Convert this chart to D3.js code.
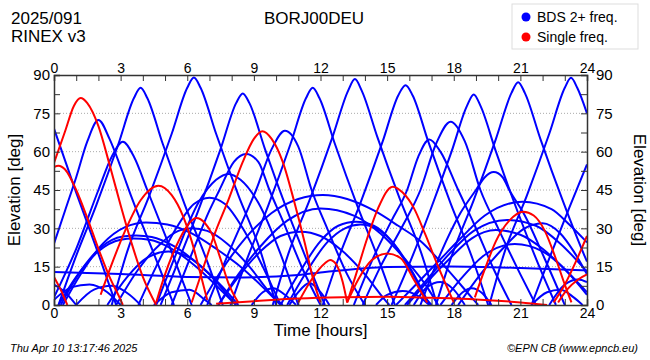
<!DOCTYPE html>
<html>
<head>
<meta charset="utf-8">
<script src="https://cdn.jsdelivr.net/npm/d3@7"></script>
<style>
  body { margin: 0; background: #fff; }
  svg { font-family: "Liberation Sans", Arial, sans-serif; }
  .grid line { stroke: #aaa; stroke-dasharray: 1,2; }
  .axis path, .axis line { stroke: #333; }
  .axis text { font-size: 15px; fill: #000; }
  .axis.xax text { font-size: 14px; }
</style>
</head>
<body>
<svg id="chart" width="650" height="360"></svg>
<script>
// tick labels
const xTicks = [0, 3, 6, 9, 12, 15, 18, 21, 24];
const yTicks = [0, 15, 30, 45, 60, 75, 90];

// BDS 2+ freq. passes: [hour, elevation]
const bdsHigh = [
  [[0, 69], [1, 44], [2, 20], [2.8, 0]],
  [[0.2, 0], [0.9, 17], [1.9, 39], [2.9, 63], [3.6, 81], [3.9, 85], [4.2, 81], [4.9, 63], [5.9, 39], [6.9, 17], [7.6, 0]],
  [[2.6, 0], [3.3, 21], [4.3, 43], [5.3, 67], [6.0, 85], [6.3, 89], [6.6, 85], [7.3, 67], [8.3, 43], [9.3, 21], [10.0, 0]],
  [[4.8, 0], [5.5, 15], [6.5, 37], [7.5, 61], [8.2, 79], [8.5, 82.8], [8.8, 79], [9.5, 61], [10.5, 37], [11.5, 15], [12.2, 0]],
  [[7.95, 0], [8.65, 17], [9.65, 39], [10.65, 63], [11.35, 81], [11.65, 85], [11.95, 81], [12.65, 63], [13.65, 39], [14.65, 17], [15.35, 0]],
  [[9.85, 0], [10.55, 20], [11.55, 42], [12.55, 66], [13.25, 84], [13.55, 88.4], [13.85, 84], [14.55, 66], [15.55, 42], [16.55, 20], [17.25, 0]],
  [[12.1, 0], [12.8, 18], [13.8, 40], [14.8, 64], [15.5, 82], [15.83, 86], [16.15, 82], [16.85, 64], [17.85, 40], [18.85, 18], [19.55, 0]],
  [[15.2, 0], [15.9, 14], [16.9, 36], [17.9, 60], [18.6, 78], [18.9, 82.4], [19.2, 78], [19.9, 60], [20.9, 36], [21.9, 14], [22.6, 0]],
  [[17.2, 0], [17.9, 19], [18.9, 41], [19.9, 65], [20.6, 83], [20.9, 87.2], [21.2, 83], [21.9, 65], [22.9, 41], [23.9, 19], [24, 17]],
  [[19.6, 0], [20.3, 21], [21.3, 43], [22.3, 67], [23.0, 85], [23.28, 88.9], [23.56, 85], [24, 75]],
  [[21.5, 0], [22.2, 16], [23.2, 38], [24, 55]]
];

const bdsMid = [
  [[0, 24], [0.5, 37], [1, 50], [1.5, 64], [2, 72.4], [2.5, 65], [3, 54], [3.5, 42], [4.5, 20], [5.4, 0]],
  [[0, 3], [1, 22], [2, 45], [2.6, 58], [3.1, 63.9], [3.6, 58], [4.2, 45], [5.2, 23], [6.2, 0]],
  [[4.6, 0], [5.5, 20], [6.5, 40], [7.3, 49], [7.85, 51.3], [8.4, 49], [9.2, 40], [10.2, 20], [11.0, 0]],
  [[5.3, 0], [6.2, 20], [7, 37], [7.45, 45], [8.1, 56], [8.65, 59.1], [9.2, 56], [9.7, 45], [10.3, 33], [11.2, 14], [12, 0]],
  [[6.9, 0], [7.7, 17], [8.5, 33], [9.1, 45], [9.8, 61], [10.4, 68.2], [11, 62], [11.6, 45], [12.3, 30], [13.2, 12], [14, 0]],
  [[13.5, 0], [14.3, 17], [15.2, 33], [15.9, 45], [16.4, 58], [16.9, 64.8], [17.4, 60], [18.2, 45], [18.9, 32], [19.8, 14], [20.6, 0]],
  [[13.9, 0], [14.7, 15], [15.7, 31], [16.5, 45], [17.2, 63], [17.86, 71.7], [18.5, 64], [19.2, 45], [20, 30], [21, 12], [21.7, 0]],
  [[16.5, 0], [17.4, 20], [18.3, 36], [19, 45], [19.4, 50], [19.8, 52], [20.2, 50], [20.5, 45], [21.2, 35], [22.1, 18], [23, 0]],
  [[3.8, 0], [4.6, 15], [5.5, 30], [6.3, 39.5], [7.0, 42], [7.7, 39.5], [8.5, 30], [9.4, 15], [10.2, 0]]
];

const bdsWide = [
  [[0.4, 0], [1.2, 12], [2.2, 24], [3.2, 30.5], [4.14, 32.3], [5.1, 31.5], [6.2, 28], [7.3, 22], [8.4, 15], [9.4, 7], [10.2, 0]],
  [[0.2, 0], [1, 11], [2, 21], [3, 25.5], [3.57, 26], [4.3, 25.5], [5.3, 22], [6.4, 15], [7.5, 6], [8.2, 0]],
  [[0.3, 0], [1.1, 12], [2.1, 22.5], [3.1, 26.8], [3.7, 27.2], [4.4, 26.6], [5.4, 23], [6.5, 16], [7.6, 7], [8.3, 0]],
  [[2.8, 0], [3.8, 14], [4.8, 24], [5.6, 29], [6.2, 30], [6.9, 29], [7.8, 24], [8.8, 15], [9.8, 4], [10.3, 0]],
  [[2.4, 0], [3.3, 11], [4.2, 18.5], [5.15, 20.9], [6.1, 18.5], [7, 12], [7.9, 3], [8.2, 0]],
  [[6.6, 0], [7.5, 13], [8.6, 26], [9.8, 36], [11, 41.5], [12.1, 43], [13.2, 41.5], [14.4, 37], [15.5, 31], [16.5, 25], [17.6, 15], [18.8, 3], [19.1, 0]],
  [[7.4, 0], [8.3, 12], [9.3, 23], [10.5, 33], [12, 37.8], [13.5, 35], [14.7, 28], [15.8, 18], [16.8, 7], [17.3, 0]],
  [[7.4, 0], [8.3, 11], [9.3, 21], [10.2, 27], [11.1, 28.7], [12, 27], [13, 21], [14, 12], [14.9, 2], [15.1, 0]],
  [[10.2, 0], [11, 12], [12, 25], [12.8, 31], [13.6, 32.6], [14.4, 31], [15.2, 25], [16.1, 13], [16.8, 2], [17, 0]],
  [[10.5, 0], [11.3, 12], [12.3, 24.5], [13.1, 30], [13.8, 31.5], [14.5, 30], [15.3, 24], [16.2, 12], [16.9, 0]],
  [[15.4, 0], [16.3, 8], [17.3, 17], [18.3, 26], [19.4, 35], [21.1, 40.4], [22.4, 37.5], [23.2, 31.5], [24, 24.5]],
  [[15.8, 0], [16.8, 10], [17.8, 20], [18.9, 29], [20.4, 33.3], [21.7, 31], [22.8, 24], [24, 13]],
  [[15.9, 0], [16.8, 9], [17.8, 18], [18.8, 26], [19.9, 29.3], [21, 27.5], [22, 22], [23, 14], [24, 5]],
  [[18.2, 0], [19.2, 12], [20.2, 22], [21.1, 29.5], [22, 32], [22.8, 28], [23.4, 21], [24, 12]],
  [[17.4, 0], [18.3, 10], [19.3, 19], [20.75, 23.9], [22, 21], [23, 14], [24, 4]]
];

const bdsLow = [
  [[0, 8], [0.5, 5], [1, 0]],
  [[0, 2], [0.8, 7], [1.6, 8], [2.4, 5], [3, 0]],
  [[1, 0], [1.8, 6], [2.6, 7.5], [3.4, 4], [3.9, 0]],
  [[4.5, 0], [5.3, 5], [6.1, 6], [6.8, 2], [7.1, 0]],
  [[8.9, 0], [9.4, 5], [9.87, 6.6], [10.4, 4], [10.9, 0]],
  [[10.6, 0], [11, 5], [11.5, 8.6], [12, 5], [12.4, 0]],
  [[14.5, 0], [15, 4], [15.7, 5.5], [16.4, 3.5], [16.9, 0]],
  [[16.2, 0], [16.8, 7], [17.4, 9], [18, 6], [18.5, 0]],
  [[17.9, 0], [18.4, 5], [18.8, 6.6], [19.3, 4.5], [19.7, 0]],
  [[21.5, 0], [22.2, 5], [22.8, 6], [23.4, 3], [23.8, 0]],
  [[22.3, 0], [23, 8], [23.6, 10], [24, 9]]
];

// geostationary-like track
const bdsGeo = [[0, 12.9], [3, 12.1], [6, 11], [8.5, 10.8], [11, 11.7], [12.2, 12.9], [15, 14.9], [17.8, 15.1], [21, 14.5], [24, 13.5]];

// Single freq. passes
const singleArcs = [
  [[0, 54], [0.2, 54.5], [0.5, 53], [1, 45], [1.5, 34], [2, 22], [2.5, 11], [3, 2], [3.1, 0]],
  [[0, 55.6], [0.5, 68], [0.9, 78], [1.2, 81], [1.5, 79], [2, 70], [2.5, 55], [3, 39], [3.5, 24], [4, 11], [4.6, 0]],
  [[0, 11], [0.3, 6], [0.6, 0]],
  [[2.1, 4], [2.6, 16], [3.2, 29], [3.9, 41], [4.7, 46.7], [5.3, 43], [5.8, 35], [6.2, 25], [6.6, 12], [6.9, 2]],
  [[4.6, 1], [5.0, 12], [5.5, 23], [6.0, 31], [6.4, 34], [6.8, 32], [7.1, 28], [7.5, 18], [7.85, 8.6], [8.3, 1]],
  [[6.2, 1], [6.7, 14], [7.2, 27], [7.85, 41], [8.5, 56], [9, 65], [9.38, 68], [9.8, 65], [10.3, 56], [10.8, 41], [11.3, 24], [11.7, 9], [12, 1]],
  [[11, 1], [11.6, 10], [12.2, 16.3], [12.43, 17.6], [12.7, 16], [13.0, 9], [13.2, 1]],
  [[13.2, 1], [13.7, 10], [14.3, 17.5], [15, 20.2], [15.6, 18.4], [16.2, 10], [16.8, 1]],
  [[13.2, 1], [13.6, 12], [14.1, 26], [14.6, 38], [15.25, 46.3], [15.7, 44], [16.2, 38], [16.7, 28], [17.3, 15], [18, 1]],
  [[18.95, 3], [19.4, 14], [19.9, 25], [20.5, 33], [21.13, 36.5], [21.6, 35], [22.1, 29], [22.6, 18], [23, 8], [23.3, 1]],
  [[22.5, 1], [23, 8], [23.5, 17], [24, 27]],
  [[22.7, 1], [23.1, 6], [23.6, 10], [24, 12]],
  [[7.3, 0.5], [9, 1.5], [11, 2.5], [13, 3], [15, 3.2], [17, 2.8], [19, 2.2], [21, 1], [22.2, 0]]
];

const svg = d3.select('#chart');

const plotL = 54, plotR = 587, plotT = 75, plotB = 305;

const x = d3.scaleLinear().domain([0, 24]).range([plotL, plotR]);
const y = d3.scaleLinear().domain([0, 90]).range([plotB, plotT]);

// dotted grid
svg.append('g')
  .attr('class', 'grid')
  .selectAll('line')
  .data(yTicks.filter(d => d > 0 && d < 90))
  .join('line')
  .attr('x1', plotL).attr('x2', plotR)
  .attr('y1', d => y(d)).attr('y2', d => y(d));

svg.append('clipPath').attr('id', 'clip')
  .append('rect')
  .attr('x', plotL).attr('y', plotT)
  .attr('width', plotR - plotL).attr('height', plotB - plotT);

const line = d3.line()
  .x(d => x(d[0]))
  .y(d => y(d[1]))
  .curve(d3.curveMonotoneX);

const plot = svg.append('g').attr('clip-path', 'url(#clip)');

const blue = [...bdsHigh, ...bdsMid, ...bdsWide, ...bdsLow, bdsGeo];

plot.selectAll('path.bds')
  .data(blue)
  .join('path')
  .attr('class', 'bds')
  .attr('d', line)
  .attr('fill', 'none')
  .attr('stroke', '#0000ff')
  .attr('stroke-width', 2);

plot.selectAll('path.single')
  .data(singleArcs)
  .join('path')
  .attr('class', 'single')
  .attr('d', line)
  .attr('fill', 'none')
  .attr('stroke', '#ff0000')
  .attr('stroke-width', 2);

// axes, ticks pointing inward
const hours = d3.range(0, 25);
const minorY = d3.range(0, 91, 7.5);

const xBottom = d3.axisBottom(x).tickValues(hours).tickSize(-6).tickPadding(3)
  .tickFormat(d => xTicks.includes(d) ? d : '');
const xTop = d3.axisTop(x).tickValues(hours).tickSize(-6).tickPadding(2)
  .tickFormat(d => xTicks.includes(d) ? d : '');
const yLeft = d3.axisLeft(y).tickValues(minorY).tickSize(-6).tickPadding(4)
  .tickFormat(d => yTicks.includes(d) ? d : '');
const yRight = d3.axisRight(y).tickValues(minorY).tickSize(-6).tickPadding(9)
  .tickFormat(d => yTicks.includes(d) ? d : '');

svg.append('g').attr('class', 'axis xax').attr('transform', `translate(0,${plotB})`).call(xBottom);
svg.append('g').attr('class', 'axis xax').attr('transform', `translate(0,${plotT})`).call(xTop);
svg.append('g').attr('class', 'axis').attr('transform', `translate(${plotL},0)`).call(yLeft);
svg.append('g').attr('class', 'axis').attr('transform', `translate(${plotR},0)`).call(yRight);

svg.selectAll('.axis path.domain').attr('stroke-width', 1.5);

// titles
svg.append('text').attr('x', 11).attr('y', 24).attr('font-size', 17).text('2025/091');
svg.append('text').attr('x', 11).attr('y', 42).attr('font-size', 17).text('RINEX v3');
svg.append('text').attr('x', 314).attr('y', 24).attr('font-size', 17).attr('text-anchor', 'middle').text('BORJ00DEU');

svg.append('text')
  .attr('transform', `translate(20,${(plotT + plotB) / 2}) rotate(-90)`)
  .attr('text-anchor', 'middle').attr('font-size', 17).text('Elevation [deg]');
svg.append('text')
  .attr('transform', `translate(634,${(plotT + plotB) / 2}) rotate(90)`)
  .attr('text-anchor', 'middle').attr('font-size', 17).text('Elevation [deg]');
svg.append('text').attr('x', (plotL + plotR) / 2).attr('y', 336)
  .attr('text-anchor', 'middle').attr('font-size', 17).text('Time [hours]');

svg.append('text').attr('x', 10).attr('y', 352).attr('font-size', 11)
  .attr('font-style', 'italic').text('Thu Apr 10 13:17:46 2025');
svg.append('text').attr('x', 638).attr('y', 352).attr('font-size', 11)
  .attr('font-style', 'italic').attr('text-anchor', 'end').text('©EPN CB (www.epncb.eu)');

// legend
const legend = svg.append('g');
legend.append('rect').attr('x', 512).attr('y', 4).attr('width', 126).attr('height', 45)
  .attr('fill', '#fff').attr('stroke', '#ddd');
[['BDS 2+ freq.', '#0000ff'], ['Single freq.', '#ff0000']].forEach((d, i) => {
  legend.append('circle').attr('cx', 526).attr('cy', 17 + i * 20).attr('r', 4.5).attr('fill', d[1]);
  legend.append('text').attr('x', 537).attr('y', 22 + i * 20).attr('font-size', 14).text(d[0]);
});
</script>
</body>
</html>
